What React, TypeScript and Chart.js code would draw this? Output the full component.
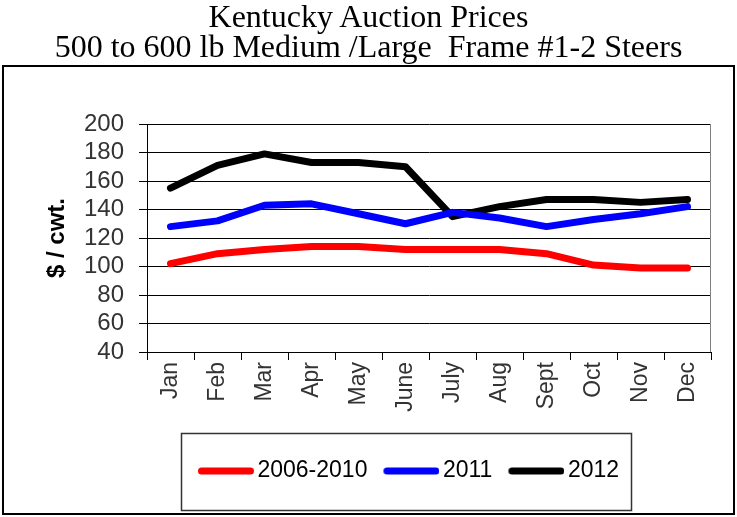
import React, { useEffect, useRef } from "react";
import { Chart, registerables } from "chart.js";

Chart.register(...registerables);

const TITLE_LINES = ["Kentucky Auction Prices", "500 to 600 lb Medium /Large  Frame #1-2 Steers"];
const MONTHS = ["Jan", "Feb", "Mar", "Apr", "May", "June", "July", "Aug", "Sept", "Oct", "Nov", "Dec"];
const SERIES_NAMES = ["2006-2010", "2011", "2012"];
const PRICES_2006_2010 = [102, 109, 112, 114, 114, 112, 112, 112, 109, 101, 99, 99];
const PRICES_2011 = [128, 132, 143, 144, 137, 130, 138, 134, 128, 133, 137, 142];
const PRICES_2012 = [155, 171, 179, 173, 173, 170, 135, 142, 147, 147, 145, 147];
const SERIES_COLORS = ["#ff0000", "#0000ff", "#000000"];
const Y_TITLE = "$ / cwt.";
const Y_MIN = 40;
const Y_MAX = 200;
const Y_STEP = 20;

const SANS = "'Liberation Sans', Arial, sans-serif";

function makeLegendLine(color: string): HTMLCanvasElement {
  const c = document.createElement("canvas");
  c.width = 70;
  c.height = 10;
  const g = c.getContext("2d")!;
  g.strokeStyle = color;
  g.lineWidth = 7;
  g.lineCap = "round";
  g.beginPath();
  g.moveTo(17.5, 5);
  g.lineTo(66.5, 5);
  g.stroke();
  return c;
}

export default function App() {
  const ref = useRef<HTMLCanvasElement>(null);

  useEffect(() => {
    const canvas = ref.current!;
    const legendImages = SERIES_COLORS.map(makeLegendLine);
    const seriesData = [PRICES_2006_2010, PRICES_2011, PRICES_2012];

    const framePlugin = {
      id: "frame",
      afterLayout(chart: any) {
        const lg = chart.legend;
        if (lg) {
          lg.left = 100;
          lg.right = chart.chartArea.right;
          lg.width = lg.right - lg.left;
        }
      },
      beforeDraw(chart: any) {
        const { ctx, width, height } = chart;
        ctx.save();
        ctx.fillStyle = "#ffffff";
        ctx.fillRect(0, 0, width, height);
        ctx.restore();
      },
      beforeDatasetsDraw(chart: any) {
        const { ctx, chartArea: a } = chart;
        ctx.save();
        ctx.strokeStyle = "#808080";
        ctx.lineWidth = 1;
        ctx.beginPath();
        ctx.moveTo(Math.round(a.right) - 0.5, a.top);
        ctx.lineTo(Math.round(a.right) - 0.5, a.bottom);
        ctx.stroke();
        ctx.restore();
      },
      afterDraw(chart: any) {
        const { ctx } = chart;
        ctx.save();
        ctx.strokeStyle = "#000000";
        ctx.lineWidth = 2;
        ctx.strokeRect(3, 66, 731, 448);
        const boxes = chart.legend?.legendHitBoxes || [];
        if (boxes.length) {
          let l = Infinity, r = -Infinity, t = Infinity, b = -Infinity;
          for (const hb of boxes) {
            l = Math.min(l, hb.left);
            r = Math.max(r, hb.left + hb.width);
            t = Math.min(t, hb.top);
            b = Math.max(b, hb.top + hb.height);
          }
          ctx.strokeStyle = "#333333";
          ctx.lineWidth = 1.5;
          ctx.strokeRect(Math.round(l - 11) + 0.5, Math.round(t - 26.5) + 0.5, Math.round(r + 12 - (l - 11)), Math.round(b + 27.5 - (t - 26.5)));
        }
        ctx.restore();
      },
    };

    const chart = new Chart(canvas, {
      type: "line",
      data: {
        labels: MONTHS,
        datasets: SERIES_NAMES.map((name, i) => ({
          label: name,
          data: seriesData[i],
          borderColor: SERIES_COLORS[i],
          backgroundColor: SERIES_COLORS[i],
          borderWidth: 7,
          borderCapStyle: "round",
          borderJoinStyle: "round",
          pointRadius: 0,
          pointHoverRadius: 0,
          tension: 0,
          fill: false,
        })),
      },
      options: {
        animation: false,
        responsive: false,
        devicePixelRatio: 1,
        layout: { padding: { left: 5, right: 26, top: 124, bottom: 24.5 } },
        scales: {
          x: {
            type: "category",
            offset: true,
            afterFit(scale: any) {
              scale.height = 97.5;
            },
            grid: {
              display: true,
              drawOnChartArea: false,
              drawTicks: true,
              tickLength: 8,
              offset: true,
              color: "#000000",
              lineWidth: 1,
            },
            border: { display: true, color: "#000000", width: 1 },
            ticks: {
              autoSkip: false,
              minRotation: 90,
              maxRotation: 90,
              padding: 2,
              color: "#333333",
              font: { family: SANS, size: 23 },
            },
          },
          y: {
            min: Y_MIN,
            max: Y_MAX,
            afterFit(scale: any) {
              scale.width = 142;
            },
            grid: {
              color: "#000000",
              lineWidth: 1,
              tickLength: 8,
              drawTicks: true,
            },
            border: { display: true, color: "#000000", width: 1 },
            ticks: {
              stepSize: Y_STEP,
              autoSkip: false,
              padding: 15,
              color: "#333333",
              font: { family: SANS, size: 24 },
            },
            title: {
              display: true,
              text: Y_TITLE,
              color: "#000000",
              font: { family: SANS, size: 24, weight: "bold", lineHeight: 1.2 },
              padding: { top: 37.6, bottom: 0 },
            },
          },
        },
        plugins: {
          title: { display: false },
          tooltip: { enabled: false },
          legend: {
            display: true,
            position: "bottom",
            align: "center",
            labels: {
              usePointStyle: true,
              pointStyleWidth: 54,
              padding: 10,
              color: "#000000",
              font: { family: SANS, size: 23 },
              generateLabels(ch: any) {
                const items = Chart.defaults.plugins.legend.labels.generateLabels(ch);
                return items.map((it: any, i: number) => ({ ...it, pointStyle: legendImages[i] }));
              },
            },
          },
        },
      },
      plugins: [framePlugin],
    } as any);

    return () => chart.destroy();
  }, []);

  return (
    <div style={{ position: "absolute", left: 0, top: 0, width: 737, height: 517, background: "#fff" }}>
      <canvas ref={ref} width={737} height={517} style={{ position: "absolute", left: 0, top: 0, width: 737, height: 517 }} />
      <div
        style={{
          position: "absolute",
          left: 0,
          top: 1,
          width: 737,
          textAlign: "center",
          fontFamily: "'Liberation Serif', 'Times New Roman', serif",
          fontSize: 32,
          lineHeight: "30px",
          color: "#000",
          whiteSpace: "pre",
        }}
      >
        {TITLE_LINES.map((line) => (
          <div key={line}>{line}</div>
        ))}
      </div>
    </div>
  );
}
